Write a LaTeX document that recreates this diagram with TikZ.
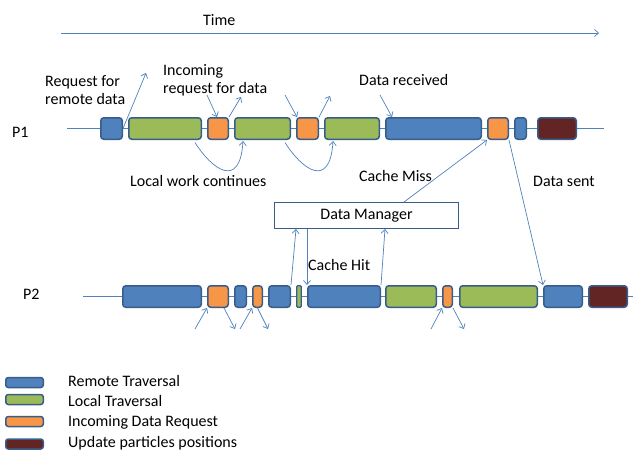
\documentclass[tikz,border=0pt]{standalone}
\usepackage{fontspec}
\setmainfont{Carlito}
\usetikzlibrary{arrows.meta}
\definecolor{rblue}{HTML}{4F81BD}
\definecolor{bord}{HTML}{385D8A}
\definecolor{lgreen}{HTML}{9BBB59}
\definecolor{orng}{HTML}{F79646}
\definecolor{dred}{HTML}{632523}
\definecolor{lnc}{HTML}{4F81BD}
\newcommand\mkseg[5]{\node[#2, minimum width={#4-#3-1.5}] (#1) at ({(#3+#4)/2},#5) {};}
\begin{document}
\begin{tikzpicture}[x=1pt,y=-1pt,
  seg/.style={draw=bord, line width=1.5pt, rounded corners=3pt, inner sep=0pt, minimum height=21.5pt},
  rem/.style={seg, fill=rblue}, loc/.style={seg, fill=lgreen}, inc/.style={seg, fill=orng}, upd/.style={seg, fill=dred},
  thin/.style={seg, fill=lgreen, line width=1.2pt, rounded corners=1pt},
  leg/.style={minimum height=10pt, rounded corners=2.5pt},
  lbl/.style={anchor=base west, inner sep=0pt, font=\fontsize{16}{19}\selectfont, text=black},
  con/.style={draw=lnc, line width=0.7pt, -{Straight Barb[length=4pt,width=7pt]}},
  tl/.style={draw=lnc, line width=0.9pt}]
\useasboundingbox (0,0) rectangle (633,450);

% time axis
\coordinate (t0) at (61,33);
\coordinate (t1) at (599,33);
\draw[con] (t0) -- (t1);
\node[lbl] (time) at (203,25) {Time};

% timelines
\coordinate (p1s) at (67,128.5);
\coordinate (p1t) at (604,128.5);
\coordinate (p2s) at (83,296.5);
\coordinate (p2t) at (633,296.5);
\draw[tl] (p1s) -- (p1t);
\draw[tl] (p2s) -- (p2t);
\node[lbl] (P1) at (12,137) {P1};
\node[lbl] (P2) at (23,299) {P2};

% P1 segments
\mkseg{p1a}{rem}{100}{123}{128.5}
\mkseg{p1b}{loc}{128}{202}{128.5}
\mkseg{p1c}{inc}{207}{229}{128.5}
\mkseg{p1d}{loc}{234}{291}{128.5}
\mkseg{p1e}{inc}{296}{319}{128.5}
\mkseg{p1f}{loc}{324}{380}{128.5}
\mkseg{p1g}{rem}{385}{482}{128.5}
\mkseg{p1h}{inc}{487}{509}{128.5}
\mkseg{p1i}{rem}{514}{527}{128.5}
\mkseg{p1j}{upd}{537}{577}{128.5}

% P2 segments
\mkseg{p2a}{rem}{122}{202}{296.5}
\mkseg{p2b}{inc}{207}{229}{296.5}
\mkseg{p2c}{rem}{234}{247}{296.5}
\mkseg{p2d}{inc}{252}{263}{296.5}
\mkseg{p2e}{rem}{268}{291}{296.5}
\mkseg{p2f}{thin}{296}{302}{296.5}
\mkseg{p2g}{rem}{307}{381}{296.5}
\mkseg{p2h}{loc}{385}{437}{296.5}
\mkseg{p2i}{inc}{442}{453}{296.5}
\mkseg{p2j}{loc}{459}{538}{296.5}
\mkseg{p2k}{rem}{543}{583}{296.5}
\mkseg{p2l}{upd}{588}{628}{296.5}

% Data manager
\node[draw=bord, line width=1.3pt, fill=white, minimum width=183.7pt, minimum height=25.7pt, inner sep=0pt,
      font=\fontsize{16}{19}\selectfont] (dm) at (366.5,215.5) {Data Manager};

% labels
\node[lbl] (req1) at (45,86) {Request for};
\node[lbl] (req2) at (45,104.5) {remote data};
\node[lbl] (inc1) at (163,75) {Incoming};
\node[lbl] (inc2) at (163,93) {request for data};
\node[lbl] (drec) at (359,85.7) {Data received};
\node[lbl] (lwc) at (130,186.7) {Local work continues};
\node[lbl] (cmiss) at (359,181.7) {Cache Miss};
\node[lbl] (dsent) at (533,186.7) {Data sent};
\node[lbl] (chit) at (308,270) {Cache Hit};

% P1 arrows
\coordinate (a1) at (146,73);
\draw[con] (p1a.east) -- (a1);
\coordinate (a2) at (207,95);
\draw[con] (a2) -- ([xshift=-1pt]p1c.north);
\coordinate (a3) at (241,97);
\draw[con] (p1c.north east) -- (a3);
\coordinate (a4) at (285,95);
\draw[con] (a4) -- ([xshift=1pt]p1e.north west);
\coordinate (a5) at (330,96);
\draw[con] (p1e.north east) -- (a5);
\coordinate (a6) at (380,95);
\draw[con] (a6) -- ([xshift=7pt]p1g.north west);

% local work curves
\draw[con] ([xshift=-7pt,yshift=-2.5pt]p1b.south east) .. controls +(17,27) and +(-3,49) .. ([xshift=9pt,yshift=-1pt]p1d.south west);
\draw[con] ([xshift=-6pt,yshift=-2.5pt]p1d.south east) .. controls +(17,27) and +(-3,49) .. ([xshift=9pt,yshift=-1pt]p1f.south west);

% data manager links
\draw[con] ([xshift=130pt]dm.north west) -- (p1h.south west);
\draw[con] (p1h.south east) -- (p2k.north west);
\draw[con] (p2e.north east) -- ([xshift=22pt]dm.south west);
\draw[con] ([xshift=33pt]dm.south west) -- (p2g.north west);
\draw[con] (p2g.north east) -- ([xshift=111pt]dm.south west);

% P2 arrows below
\coordinate (b1) at (195,329);
\draw[con] (b1) -- (p2b.south west);
\coordinate (b2) at (235,329);
\draw[con] ([xshift=-5pt]p2b.south east) -- (b2);
\coordinate (b3) at (240,329);
\draw[con] (b3) -- (p2d.south west);
\coordinate (b4) at (268,329);
\draw[con] (p2d.south) -- (b4);
\coordinate (b5) at (431,329);
\draw[con] (b5) -- (p2i.south west);
\coordinate (b6) at (464,329);
\draw[con] (p2i.south east) -- (b6);

% legend
\node[rem, leg, minimum width=37.5pt] (l1) at (24.5,382.5) {};
\node[loc, leg, minimum width=37.5pt] (l2) at (24.5,399.5) {};
\node[inc, leg, minimum width=37.5pt] (l3) at (24.5,421.5) {};
\node[upd, leg, minimum width=37.5pt] (l4) at (24.5,444) {};
\node[lbl] (lt1) at (68,386) {Remote Traversal};
\node[lbl] (lt2) at (68,406) {Local Traversal};
\node[lbl] (lt3) at (68,426) {Incoming Data Request};
\node[lbl] (lt4) at (68,447) {Update particles positions};
\end{tikzpicture}
\end{document}
